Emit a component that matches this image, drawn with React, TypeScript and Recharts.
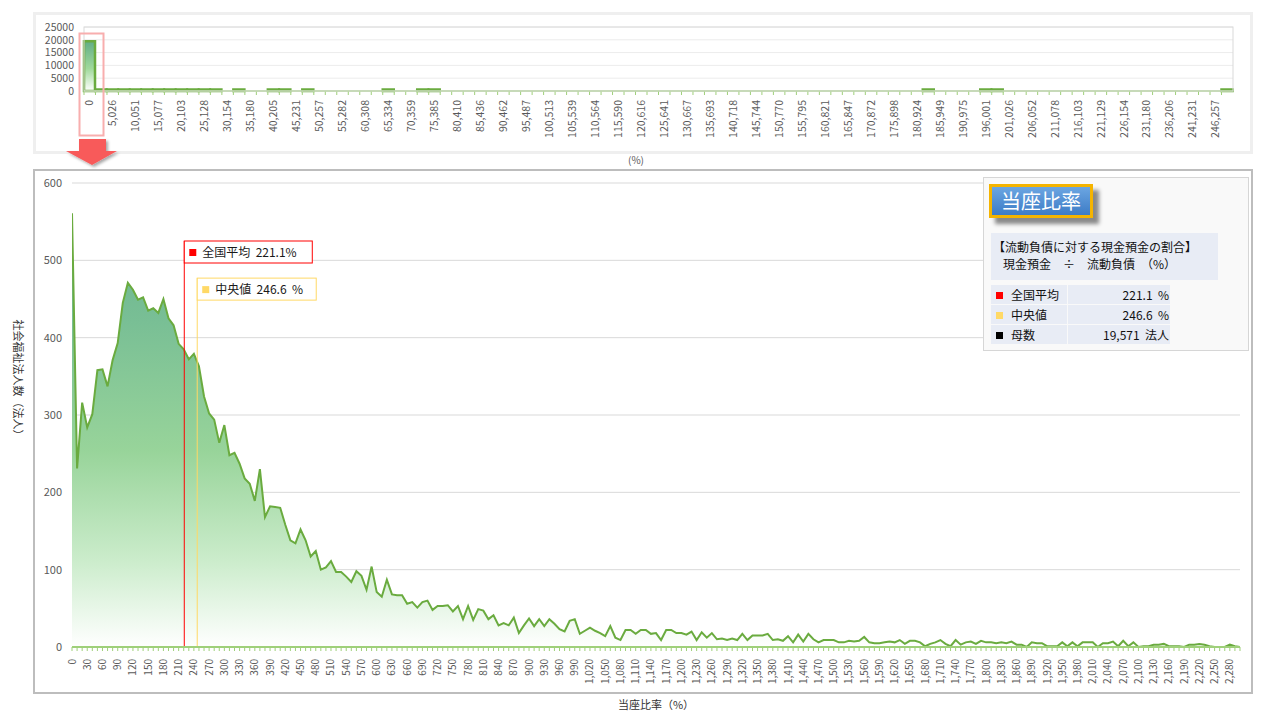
import React from 'react';
import { AreaChart, Area, XAxis, YAxis, CartesianGrid, ReferenceLine, BarChart, Bar } from 'recharts';

const FONT = '"Noto Sans CJK JP", "Noto Sans", sans-serif';

// ---- main distribution (当座比率, bins of 10%) ----
const binStarts: number[] = Array.from({ length: 231 }, (_, i) => i * 10);
const companyCounts: number[] = [
  561, 231, 316, 284, 301, 358, 359, 337, 371, 393,
  445, 471, 462, 449, 452, 435, 438, 432, 450, 425,
  416, 392, 385, 372, 379, 363, 324, 302, 294, 264,
  287, 248, 251, 237, 218, 211, 189, 230, 168, 182,
  181, 180, 158, 138, 134, 152, 138, 117, 124, 100,
  103, 111, 97, 97, 91, 84, 98, 92, 74, 104,
  71, 65, 87, 68, 67, 67, 56, 58, 51, 58,
  60, 48, 53, 53, 54, 46, 53, 36, 53, 35,
  49, 47, 36, 41, 28, 31, 28, 38, 18, 28,
  37, 27, 36, 27, 36, 30, 23, 20, 34, 36,
  17, 21, 25, 21, 18, 14, 27, 12, 9, 22,
  22, 17, 22, 22, 17, 18, 9, 22, 22, 18,
  18, 16, 20, 9, 19, 12, 18, 10, 11, 9,
  11, 9, 17, 9, 15, 15, 15, 17, 9, 10,
  8, 14, 6, 16, 7, 17, 10, 6, 9, 9,
  9, 6, 6, 8, 7, 8, 13, 6, 5, 5,
  6, 7, 6, 9, 4, 8, 8, 6, 1, 4,
  6, 9, 4, 1, 9, 3, 6, 7, 4, 8,
  6, 6, 5, 6, 5, 7, 3, 3, 0, 6,
  5, 5, 1, 1, 1, 6, 1, 6, 1, 6,
  6, 6, 0, 5, 5, 7, 1, 8, 1, 6,
  0, 1, 1, 3, 3, 4, 1, 1, 1, 0,
  3, 3, 4, 3, 1, 0, 0, 0, 3, 1,
  0,
];
const mainYTicks: number[] = [0, 100, 200, 300, 400, 500, 600];

// ---- overview (full range) ----
const topTickLabels: string[] = [
  '0', '5,026', '10,051', '15,077', '20,103', '25,128', '30,154', '35,180', '40,205', '45,231',
  '50,257', '55,282', '60,308', '65,334', '70,359', '75,385', '80,410', '85,436', '90,462', '95,487',
  '100,513', '105,539', '110,564', '115,590', '120,616', '125,641', '130,667', '135,693', '140,718', '145,744',
  '150,770', '155,795', '160,821', '165,847', '170,872', '175,898', '180,924', '185,949', '190,975', '196,001',
  '201,026', '206,052', '211,078', '216,103', '221,129', '226,154', '231,180', '236,206', '241,231', '246,257',
];
const topCounts: number[] = [
  19400, 40, 25, 20, 15, 12, 10, 8, 6, 5,
  4, 3, 0, 3, 0, 0, 2, 2, 0, 2,
  0, 0, 0, 0, 0, 0, 1, 0, 0, 1,
  1, 0, 0, 0, 0, 0, 0, 0, 0, 0,
  0, 0, 0, 0, 0, 0, 0, 0, 0, 0,
  0, 0, 0, 0, 0, 0, 0, 0, 0, 0,
  0, 0, 0, 0, 0, 0, 0, 0, 0, 0,
  0, 0, 0, 1, 0, 0, 0, 0, 1, 1,
  0, 0, 0, 0, 0, 0, 0, 0, 0, 0,
  0, 0, 0, 0, 0, 0, 0, 0, 0, 1,
];
const topYTicks: number[] = [0, 5000, 10000, 15000, 20000, 25000];

const averageValue = 221.1;
const medianValue = 246.6;
const totalCount = '19,571';

const mainData = binStarts.map((x, i) => ({ x, v: companyCounts[i] }));
const topData = topCounts.map((c, i) => ({ idx: i, c: c === 0 ? null : c }));

const GREEN = '#6aab3f';
const AXIS_GREEN = '#9fd07a';

const MainTick = (props: any) => {
  const { x, y, payload } = props;
  const v = payload.value as number;
  if (v % 30 !== 0) return <g />;
  const ty = y + 6;
  return (
    <text x={x} y={ty} dy="0.35em" textAnchor="end" fontSize={10} fill="#595959" fontFamily={FONT}
      transform={`rotate(-90 ${x} ${ty})`}>
      {v.toLocaleString('en-US')}
    </text>
  );
};

const TOP_BW = 1149 / 100;
const TopTick = (props: any) => {
  const { x, y, index } = props;
  const ty = y + 3;
  return (
    <g>
      <line x1={x - TOP_BW / 2} x2={x - TOP_BW / 2} y1={y - 6} y2={y - 2} stroke={AXIS_GREEN} strokeWidth={1} />
      {index % 2 === 0 ? (
        <text x={x} y={ty} dy="0.35em" textAnchor="end" fontSize={10.5} fill="#595959" fontFamily={FONT}
          transform={`rotate(-90 ${x} ${ty})`}>
          {topTickLabels[index / 2]}
        </text>
      ) : null}
    </g>
  );
};

const RefTag = ({ viewBox, color, square, text, w }: any) => {
  const x = viewBox.x;
  const y = viewBox.y;
  return (
    <g>
      <rect x={x} y={y} width={w} height={22} fill="#ffffff" stroke={color} strokeWidth={1} />
      <rect x={x + 5} y={y + 8} width={7} height={7} fill={square} />
      <text x={x + 18} y={y + 12} dy="0.35em" fontSize={12} fill="#1a1a1a" fontFamily={FONT}
        style={{ whiteSpace: 'pre' }} xmlSpace="preserve">{text}</text>
    </g>
  );
};

const cell = (extra: React.CSSProperties): React.CSSProperties => ({
  position: 'absolute', background: '#e8ecf5', fontSize: 12, color: '#111', lineHeight: '19px', height: 19, ...extra,
});

export default function App() {
  return (
    <div style={{ position: 'absolute', left: 0, top: 0, width: 1280, height: 720, background: '#fff', fontFamily: FONT, overflow: 'hidden' }}>
      {/* top panel frame */}
      <div style={{ position: 'absolute', left: 33, top: 12, width: 1220, height: 142, border: '3px solid #efefef', boxSizing: 'border-box' }} />
      {/* main panel frame */}
      <div style={{ position: 'absolute', left: 33, top: 169, width: 1220, height: 525, border: '2px solid #bdbdbd', boxSizing: 'border-box' }} />

      {/* overview chart */}
      <div style={{ position: 'absolute', left: 0, top: 0 }}>
        <BarChart width={1280} height={160} data={topData} margin={{ top: 27, right: 47, bottom: 24, left: 34 }} barCategoryGap={0} barGap={0}>
          <defs>
            <linearGradient id="topGrad" x1="0" y1="0" x2="0" y2="1">
              <stop offset="0%" stopColor="#62ad86" />
              <stop offset="55%" stopColor="#a0d99b" />
              <stop offset="100%" stopColor="#ffffff" />
            </linearGradient>
          </defs>
          <CartesianGrid vertical={false} stroke="#ececec" />
          <XAxis dataKey="idx" type="category" interval={0} height={45} axisLine={{ stroke: AXIS_GREEN, strokeWidth: 1.5 }}
            tickLine={false} tickSize={4} tickMargin={2} tick={<TopTick />} />
          <YAxis domain={[0, 25000]} ticks={topYTicks} width={50} axisLine={false} tickLine={false} tickMargin={4}
            tick={{ fontSize: 10.5, fill: '#595959', fontFamily: FONT }} interval={0} />
          <Bar dataKey="c" fill="url(#topGrad)" stroke={GREEN} strokeWidth={2.5} minPointSize={1.5} isAnimationActive={false} />
        </BarChart>
      </div>

      {/* main chart */}
      <div style={{ position: 'absolute', left: 0, top: 0 }}>
        <AreaChart width={1280} height={720} data={mainData} margin={{ top: 183, right: 40, bottom: 28, left: 32 }}>
          <defs>
            <linearGradient id="areaGrad" x1="0" y1="0" x2="0" y2="1">
              <stop offset="0%" stopColor="#68b28e" />
              <stop offset="25%" stopColor="#79bf95" />
              <stop offset="55%" stopColor="#98d49a" />
              <stop offset="80%" stopColor="#cbeccb" />
              <stop offset="100%" stopColor="#ffffff" />
            </linearGradient>
          </defs>
          <CartesianGrid vertical={false} stroke="#d9d9d9" />
          <XAxis dataKey="x" type="number" domain={[0, 2300]} ticks={binStarts} interval={0} height={45}
            axisLine={{ stroke: AXIS_GREEN, strokeWidth: 2 }} tickLine={{ stroke: AXIS_GREEN }} tickSize={4} tickMargin={2}
            tick={<MainTick />} allowDataOverflow />
          <YAxis domain={[0, 600]} ticks={mainYTicks} width={40} axisLine={false} tickLine={false} tickMargin={4}
            tick={{ fontSize: 11, fill: '#595959', fontFamily: FONT }} interval={0} />
          <Area type="linear" dataKey="v" stroke={GREEN} strokeWidth={2} fill="url(#areaGrad)" fillOpacity={1}
            isAnimationActive={false} dot={false} activeDot={false} />
          <ReferenceLine segment={[{ x: medianValue, y: 0 }, { x: medianValue, y: 477 }]} stroke="#ffd966" strokeWidth={1}
            label={<RefTag color="#ffd966" square="#ffd966" text={`中央値  ${medianValue}  %`} w={119} />} />
          <ReferenceLine segment={[{ x: averageValue, y: 0 }, { x: averageValue, y: 525 }]} stroke="#ff0000" strokeWidth={1}
            label={<RefTag color="#ff0000" square="#ff0000" text={`全国平均  ${averageValue}%`} w={128} />} />
        </AreaChart>
      </div>

      {/* decorations */}
      <svg width={1280} height={720} style={{ position: 'absolute', left: 0, top: 0, pointerEvents: 'none' }}>
        <defs>
          <filter id="arrowShadow" x="-30%" y="-30%" width="160%" height="160%">
            <feDropShadow dx="2" dy="2" stdDeviation="1.5" floodColor="#000" floodOpacity="0.35" />
          </filter>
        </defs>
        <rect x={84} y={27} width={1149} height={64} fill="none" stroke="#d9d9d9" strokeWidth={1} />
        <rect x={79.5} y={33.5} width={24} height={102} fill="none" stroke="#f8aeae" strokeWidth={2} />
        <polygon points="79,139 106,139 106,151 117,151 92,165 66,151 79,151" fill="#f85a5a" filter="url(#arrowShadow)" />
        <text x={636} y={160} dy="0.35em" textAnchor="middle" fontSize={10} fill="#595959" fontFamily={FONT}>(%)</text>
        <text x={656} y={705} dy="0.35em" textAnchor="middle" fontSize={11} fill="#333" fontFamily={FONT}>当座比率（%）</text>
        <text x={18} y={380} dy="0.35em" textAnchor="middle" fontSize={11} fill="#333" fontFamily={FONT}
          transform="rotate(90 18 380)">社会福祉法人数（法人）</text>
      </svg>

      {/* info panel */}
      <div style={{ position: 'absolute', left: 983, top: 177, width: 266, height: 174, border: '1px solid #d6d6d6', background: '#f9f9f9', boxSizing: 'border-box' }} />
      <div style={{
        position: 'absolute', left: 989, top: 184, width: 104, height: 34, boxSizing: 'border-box',
        border: '3px solid #f5b400', background: 'linear-gradient(#6ba6e2, #3d7cc6)', color: '#fff',
        fontSize: 20, lineHeight: '28px', textAlign: 'center', boxShadow: '6px 6px 4px rgba(0,0,0,0.45)',
      }}>当座比率</div>
      <div style={{ position: 'absolute', left: 991, top: 233, width: 227, height: 47, background: '#e8ecf5', fontSize: 12, color: '#111', lineHeight: '17px', paddingTop: 5, boxSizing: 'border-box' }}>
        <div style={{ paddingLeft: 2, whiteSpace: 'nowrap' }}>【流動負債に対する現金預金の割合】</div>
        <div style={{ paddingLeft: 12, whiteSpace: 'pre' }}>{'現金預金　÷　流動負債　（%）'}</div>
      </div>
      {[
        { sq: '#ff0000', label: '全国平均', value: `${averageValue}  %` },
        { sq: '#ffd966', label: '中央値', value: `${medianValue}  %` },
        { sq: '#000000', label: '母数', value: `${totalCount}  法人` },
      ].map((r, i) => (
        <React.Fragment key={i}>
          <div style={cell({ left: 991, top: 285 + i * 20, width: 76 })}>
            <span style={{ display: 'inline-block', width: 7, height: 7, background: r.sq, marginLeft: 5, marginRight: 8, verticalAlign: 'middle', position: 'relative', top: -1 }} />
            {r.label}
          </div>
          <div style={cell({ left: 1068, top: 285 + i * 20, width: 102, textAlign: 'right', whiteSpace: 'pre', paddingRight: 1, boxSizing: 'border-box' })}>
            {r.value}
          </div>
        </React.Fragment>
      ))}
    </div>
  );
}
